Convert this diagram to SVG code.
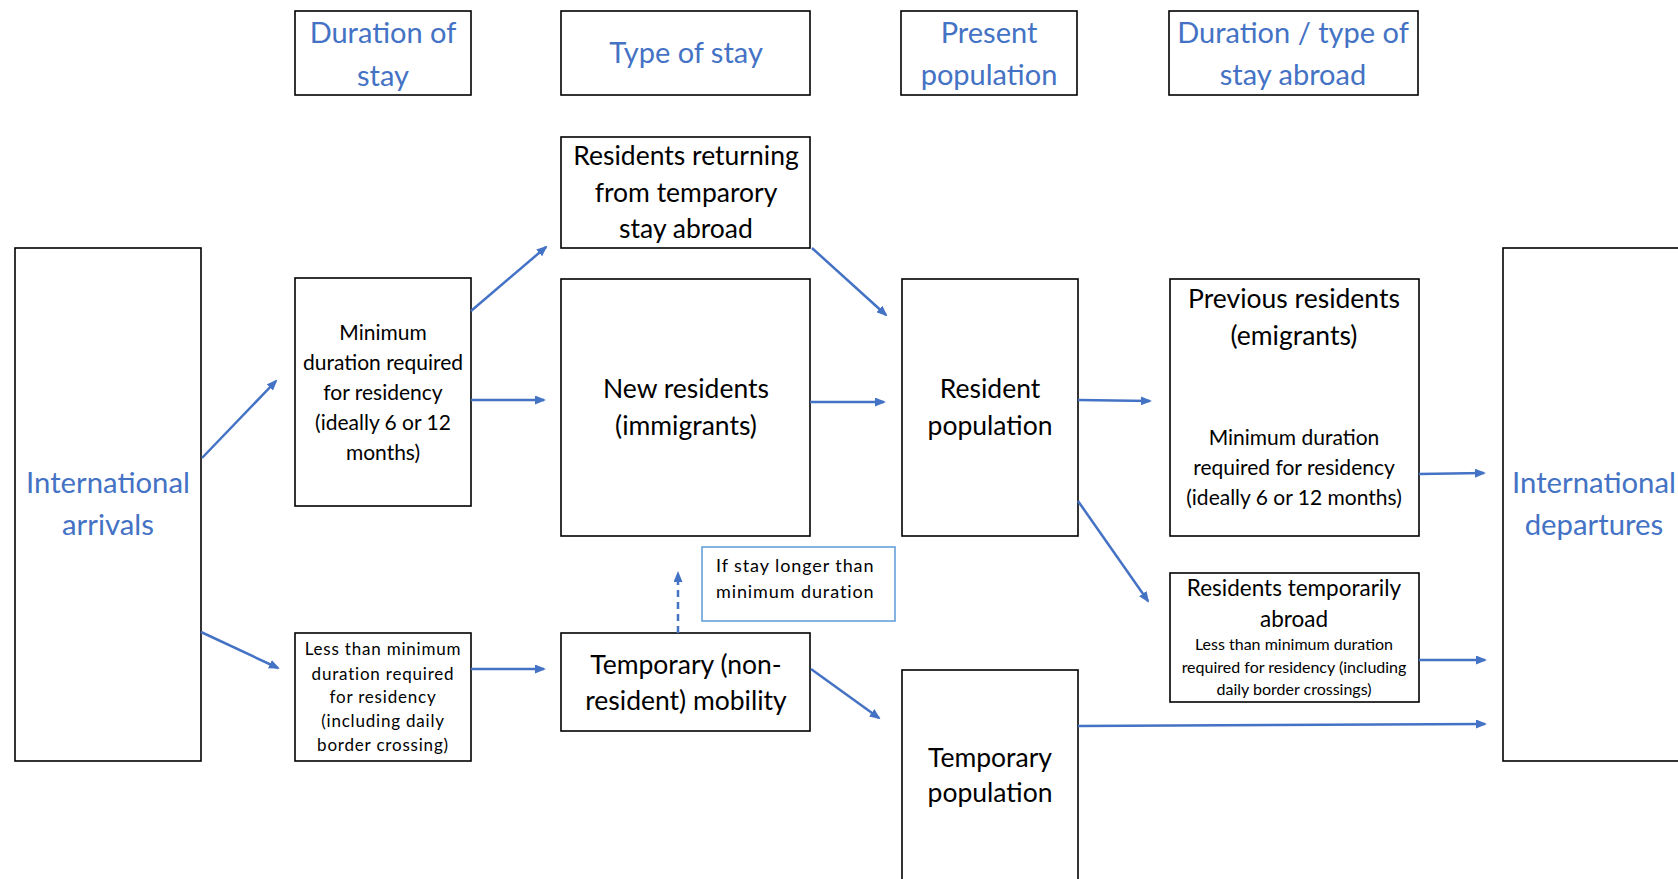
<svg xmlns="http://www.w3.org/2000/svg" width="1678" height="879" viewBox="0 0 1678 879">
<style>
.box{fill:#fff;stroke:#000;stroke-width:1.6}
.bbox{fill:#fff;stroke:#5B9BD5;stroke-width:1.5}
text{font-family:Lato,"Open Sans","Liberation Sans",sans-serif;text-anchor:middle}
.hd{fill:#4472C4;font-size:29px}
.big{fill:#4472C4;font-size:29.3px}
.t{fill:#000;font-size:26.5px}
.s{fill:#000;font-size:21px}
.xs{fill:#000;font-size:17px;letter-spacing:0.8px}
.tiny{fill:#000;font-size:16px}
.c{stroke:#4472C4;stroke-width:2.5;fill:none;marker-end:url(#ah)}
.d{stroke:#4472C4;stroke-width:2.5;fill:none;stroke-dasharray:7,5;marker-end:url(#ah)}
</style>
<defs>
<marker id="ah" markerWidth="11" markerHeight="9" refX="9" refY="4.5" orient="auto" markerUnits="userSpaceOnUse" viewBox="0 0 11 9">
<path d="M0,0 L11,4.5 L0,9 z" fill="#4472C4"/>
</marker>
</defs>
<rect width="1678" height="879" fill="#fff"/>

<g id="hdr-duration"><rect class="box" x="295" y="11" width="176" height="84"/><text class="hd" x="383" y="43">Duration of</text><text class="hd" x="383" y="86">stay</text></g>
<g id="hdr-type"><rect class="box" x="561" y="11" width="249" height="84"/><text class="hd" x="686" y="63">Type of stay</text></g>
<g id="hdr-present"><rect class="box" x="901" y="11" width="176" height="84"/><text class="hd" x="989" y="43">Present</text><text class="hd" x="989" y="85">population</text></g>
<g id="hdr-abroad"><rect class="box" x="1169" y="11" width="249" height="84"/><text class="hd" x="1293" y="43">Duration / type of</text><text class="hd" x="1293" y="85">stay abroad</text></g>

<g id="arrivals"><rect class="box" x="15" y="248" width="186" height="513"/><text class="big" x="108" y="493">International</text><text class="big" x="108" y="535">arrivals</text></g>
<g id="departures"><rect class="box" x="1503" y="248" width="200" height="513"/><text class="big" x="1594" y="493">International</text><text class="big" x="1594" y="535">departures</text></g>

<g id="min-duration"><rect class="box" x="295" y="278" width="176" height="228"/>
<text class="s" x="383" y="340">Minimum</text><text class="s" x="383" y="370">duration required</text><text class="s" x="383" y="400">for residency</text><text class="s" x="383" y="430">(ideally 6 or 12</text><text class="s" x="383" y="460">months)</text></g>

<g id="returning"><rect class="box" x="561" y="137" width="249" height="111"/>
<text class="t" x="686" y="165">Residents returning</text><text class="t" x="686" y="202">from temparory</text><text class="t" x="686" y="238">stay abroad</text></g>

<g id="new-residents"><rect class="box" x="561" y="279" width="249" height="257"/>
<text class="t" x="686" y="398">New residents</text><text class="t" x="686" y="435">(immigrants)</text></g>

<g id="resident-pop"><rect class="box" x="902" y="279" width="176" height="257"/>
<text class="t" x="990" y="398">Resident</text><text class="t" x="990" y="435">population</text></g>

<g id="previous"><rect class="box" x="1170" y="279" width="249" height="257"/>
<text class="t" x="1294" y="308">Previous residents</text><text class="t" x="1294" y="345">(emigrants)</text>
<text class="s" x="1294" y="445">Minimum duration</text><text class="s" x="1294" y="475">required for residency</text><text class="s" x="1294" y="505">(ideally 6 or 12 months)</text></g>

<g id="less-than"><rect class="box" x="295" y="633" width="176" height="128"/>
<text class="xs" x="383" y="655">Less than minimum</text><text class="xs" x="383" y="680">duration required</text><text class="xs" x="383" y="703">for residency</text><text class="xs" x="383" y="727">(including daily</text><text class="xs" x="383" y="751">border crossing)</text></g>

<g id="temp-mobility"><rect class="box" x="561" y="633" width="249" height="98"/>
<text class="t" x="686" y="674">Temporary (non-</text><text class="t" x="686" y="710">resident) mobility</text></g>

<g id="if-stay"><rect class="bbox" x="702" y="547" width="193" height="74"/>
<text class="xs" x="716" y="572" style="text-anchor:start;letter-spacing:0.9px;font-size:18px">If stay longer than</text><text class="xs" x="716" y="598" style="text-anchor:start;letter-spacing:0.9px;font-size:18px">minimum duration</text></g>

<g id="temp-abroad"><rect class="box" x="1170" y="573" width="249" height="129"/>
<text class="t" x="1294" y="596" style="font-size:22.5px">Residents temporarily</text><text class="t" x="1294" y="627" style="font-size:22.5px">abroad</text>
<text class="tiny" x="1294" y="650">Less than minimum duration</text><text class="tiny" x="1294" y="673">required for residency (including</text><text class="tiny" x="1294" y="695">daily border crossings)</text></g>

<g id="temp-pop"><rect class="box" x="902" y="670" width="176" height="240"/>
<text class="t" x="990" y="767">Temporary</text><text class="t" x="990" y="802">population</text></g>

<g id="connectors">
<line class="c" x1="202" y1="458" x2="276" y2="381"/>
<line class="c" x1="201" y1="632" x2="278" y2="668"/>
<line class="c" x1="471" y1="311" x2="546" y2="247"/>
<line class="c" x1="471" y1="400" x2="544" y2="400"/>
<line class="c" x1="812" y1="248" x2="886" y2="315"/>
<line class="c" x1="810" y1="402" x2="884" y2="402"/>
<line class="c" x1="1078" y1="400" x2="1150" y2="401"/>
<line class="c" x1="1078" y1="501" x2="1148" y2="601"/>
<line class="c" x1="1419" y1="474" x2="1484" y2="473"/>
<line class="c" x1="1419" y1="660" x2="1485" y2="660"/>
<line class="c" x1="1078" y1="726" x2="1485" y2="724"/>
<line class="c" x1="471" y1="669" x2="544" y2="669"/>
<line class="c" x1="811" y1="669" x2="879" y2="718"/>
<line class="d" x1="678" y1="633" x2="678" y2="573"/>
</g>
</svg>
